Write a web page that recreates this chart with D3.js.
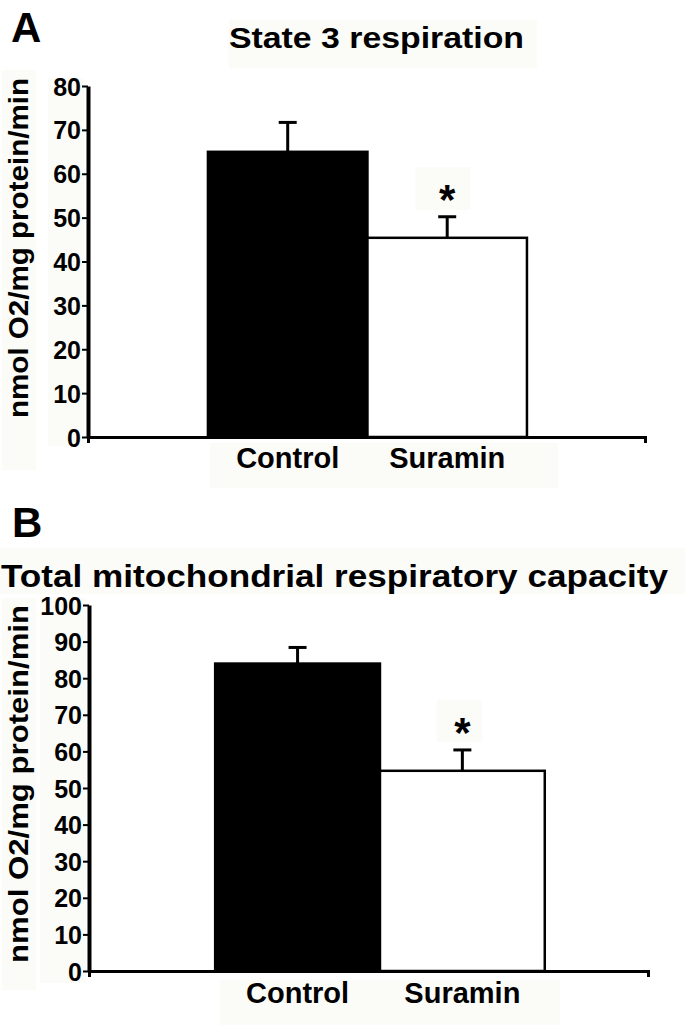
<!DOCTYPE html>
<html>
<head>
<meta charset="utf-8">
<script src="https://cdn.jsdelivr.net/npm/d3@7/dist/d3.min.js"></script>
<style>
  html, body { margin: 0; padding: 0; background: #fff; }
  svg { display: block; font-family: "Liberation Sans", Arial, Helvetica, sans-serif; font-weight: bold; }
</style>
</head>
<body>
<svg id="chart" width="685" height="1030"></svg>
<script>
// ---- data ----
const categories = ["Control", "Suramin"];
const state3Means = [65, 45.4];
const state3Errors = [6.7, 4.8];
const totalMeans = [84, 54.7];
const totalErrors = [4.4, 5.7];
const significant = [false, true];
const state3Ticks = [0, 10, 20, 30, 40, 50, 60, 70, 80];
const totalTicks = [0, 10, 20, 30, 40, 50, 60, 70, 80, 90, 100];
const yLabel = "nmol O2/mg protein/min";

const svg = d3.select("#chart");
svg.append("rect").attr("width", 685).attr("height", 1030).attr("fill", "#fff");

const faint = "#fbfbf8";

function panel(cfg) {
  const g = svg.append("g");
  cfg.boxes.forEach(b => g.append("rect").attr("x", b[0]).attr("y", b[1])
    .attr("width", b[2]).attr("height", b[3]).attr("fill", faint));

  const y = d3.scaleLinear().domain([0, d3.max(cfg.ticks)]).range(cfg.yRange);
  const x = d3.scaleBand().domain(categories).range(cfg.xRange)
    .paddingInner(0).paddingOuter(cfg.padOuter).align(cfg.align);

  g.append("text").attr("x", cfg.letterPos[0]).attr("y", cfg.letterPos[1])
    .attr("font-size", 42).attr("fill", "#000").text(cfg.letter);

  g.append("text").attr("x", cfg.titlePos[0]).attr("y", cfg.titlePos[1])
    .attr("font-size", cfg.titleSize).attr("text-anchor", "start")
    .attr("textLength", cfg.titleLen).attr("lengthAdjust", "spacingAndGlyphs")
    .attr("fill", "#000").text(cfg.title);

  g.append("text")
    .attr("transform", `translate(${cfg.yLabelPos[0]},${cfg.yLabelPos[1]}) rotate(-90)`)
    .attr("text-anchor", "middle").attr("font-size", 27)
    .attr("textLength", cfg.yLabelLen).attr("lengthAdjust", "spacingAndGlyphs")
    .attr("fill", "#000").text(yLabel);

  g.selectAll(".bar").data(categories).enter().append("rect")
    .attr("x", (d) => x(d))
    .attr("y", (d, i) => y(cfg.means[i]))
    .attr("width", x.bandwidth())
    .attr("height", (d, i) => y(0) - y(cfg.means[i]))
    .attr("fill", (d, i) => i === 0 ? "#000" : "#fff")
    .attr("stroke", "#000").attr("stroke-width", 2.5);

  categories.forEach((c, i) => {
    const cx = x(c) + x.bandwidth() / 2;
    const top = y(cfg.means[i] + cfg.errors[i]);
    g.append("line").attr("x1", cx).attr("x2", cx)
      .attr("y1", y(cfg.means[i])).attr("y2", top)
      .attr("stroke", "#000").attr("stroke-width", 3);
    g.append("line").attr("x1", cx - 9).attr("x2", cx + 9)
      .attr("y1", top).attr("y2", top)
      .attr("stroke", "#000").attr("stroke-width", 3);
    if (significant[i]) {
      g.append("text").attr("x", cx).attr("y", top - cfg.starOffset)
        .attr("text-anchor", "middle").attr("font-size", 42).attr("fill", "#000").text("*");
    }
  });

  const yAxis = d3.axisLeft(y).tickValues(cfg.ticks).tickSize(6).tickSizeOuter(0).tickPadding(1);
  const ya = g.append("g").attr("transform", `translate(${cfg.xRange[0]},0)`).call(yAxis);
  ya.select(".domain").attr("stroke", "#000").attr("stroke-width", 4);
  ya.selectAll(".tick line").attr("stroke", "#000").attr("stroke-width", 2);
  ya.selectAll(".tick text").attr("font-size", 25).attr("font-family", "Liberation Sans, Arial, sans-serif")
    .attr("font-weight", "bold").attr("fill", "#000").attr("dy", "0.36em");

  const xAxis = d3.axisBottom(x).tickSizeInner(0).tickSizeOuter(6).tickPadding(cfg.xPad);
  const xa = g.append("g").attr("transform", `translate(0,${cfg.yRange[0]})`).call(xAxis);
  xa.select(".domain").attr("stroke", "#000").attr("stroke-width", 3);
  xa.selectAll(".tick text").attr("font-size", 29).attr("font-family", "Liberation Sans, Arial, sans-serif")
    .attr("font-weight", "bold").attr("fill", "#000");
}

panel({
  letter: "A", letterPos: [11, 42],
  title: "State 3 respiration", titlePos: [229, 48], titleSize: 30, titleLen: 295,
  yLabelPos: [28, 248], yLabelLen: 340,
  ticks: state3Ticks, means: state3Means, errors: state3Errors,
  yRange: [437, 86], xRange: [88, 645], padOuter: 0.746, align: 0.504,
  xPad: 10, starOffset: 3,
  boxes: [[229, 20, 308, 48], [2, 70, 34, 400], [48, 78, 36, 368], [210, 443, 348, 45], [415, 167, 55, 43]]
});

panel({
  letter: "B", letterPos: [12, 537],
  title: "Total mitochondrial respiratory capacity", titlePos: [1, 587], titleSize: 32, titleLen: 667,
  yLabelPos: [28, 784], yLabelLen: 358,
  ticks: totalTicks, means: totalMeans, errors: totalErrors,
  yRange: [971, 605], xRange: [89, 648], padOuter: 0.696, align: 0.55,
  xPad: 11, starOffset: 3,
  boxes: [[0, 548, 685, 46], [2, 598, 34, 392], [40, 598, 46, 385], [220, 980, 340, 45], [437, 700, 45, 42]]
});
</script>
</body>
</html>
